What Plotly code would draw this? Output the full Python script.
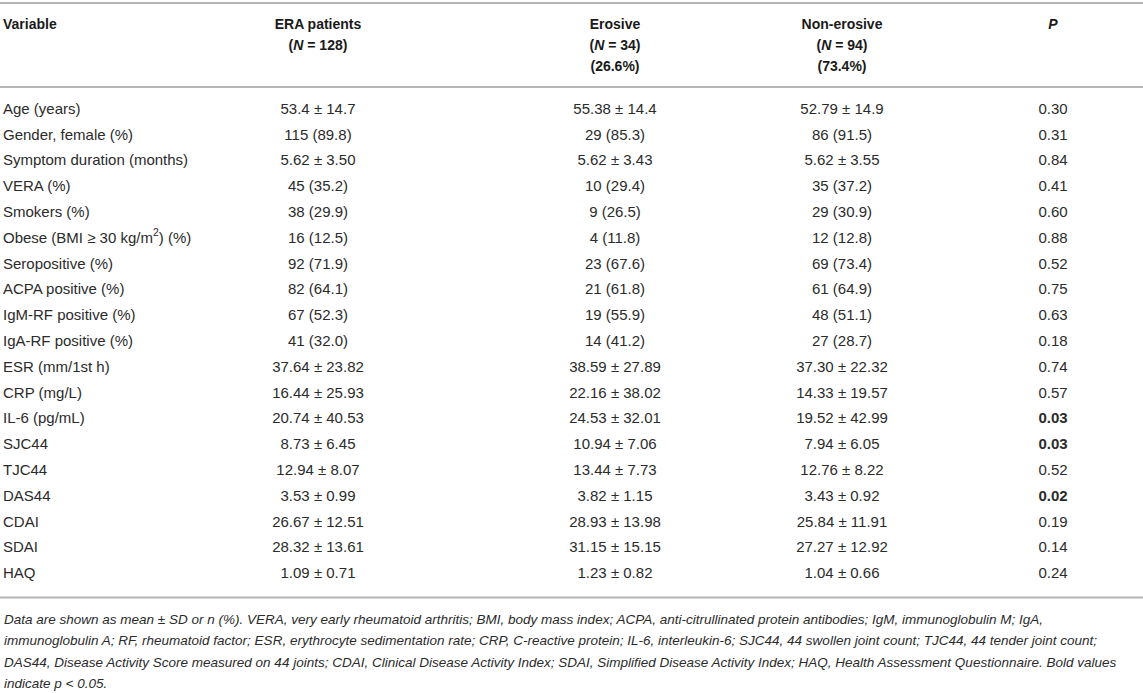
import plotly.graph_objects as go

variables = [
    "Age (years)",
    "Gender, female (%)",
    "Symptom duration (months)",
    "VERA (%)",
    "Smokers (%)",
    "Obese (BMI ≥ 30 kg/m<sup>2</sup>) (%)",
    "Seropositive (%)",
    "ACPA positive (%)",
    "IgM-RF positive (%)",
    "IgA-RF positive (%)",
    "ESR (mm/1st h)",
    "CRP (mg/L)",
    "IL-6 (pg/mL)",
    "SJC44",
    "TJC44",
    "DAS44",
    "CDAI",
    "SDAI",
    "HAQ",
]
era_patients = [
    "53.4 ± 14.7", "115 (89.8)", "5.62 ± 3.50", "45 (35.2)", "38 (29.9)",
    "16 (12.5)", "92 (71.9)", "82 (64.1)", "67 (52.3)", "41 (32.0)",
    "37.64 ± 23.82", "16.44 ± 25.93", "20.74 ± 40.53", "8.73 ± 6.45",
    "12.94 ± 8.07", "3.53 ± 0.99", "26.67 ± 12.51", "28.32 ± 13.61",
    "1.09 ± 0.71",
]
erosive = [
    "55.38 ± 14.4", "29 (85.3)", "5.62 ± 3.43", "10 (29.4)", "9 (26.5)",
    "4 (11.8)", "23 (67.6)", "21 (61.8)", "19 (55.9)", "14 (41.2)",
    "38.59 ± 27.89", "22.16 ± 38.02", "24.53 ± 32.01", "10.94 ± 7.06",
    "13.44 ± 7.73", "3.82 ± 1.15", "28.93 ± 13.98", "31.15 ± 15.15",
    "1.23 ± 0.82",
]
non_erosive = [
    "52.79 ± 14.9", "86 (91.5)", "5.62 ± 3.55", "35 (37.2)", "29 (30.9)",
    "12 (12.8)", "69 (73.4)", "61 (64.9)", "48 (51.1)", "27 (28.7)",
    "37.30 ± 22.32", "14.33 ± 19.57", "19.52 ± 42.99", "7.94 ± 6.05",
    "12.76 ± 8.22", "3.43 ± 0.92", "25.84 ± 11.91", "27.27 ± 12.92",
    "1.04 ± 0.66",
]
p_values = [0.30, 0.31, 0.84, 0.41, 0.60, 0.88, 0.52, 0.75, 0.63, 0.18,
            0.74, 0.57, 0.03, 0.03, 0.52, 0.02, 0.19, 0.14, 0.24]

headers = [
    ["Variable"],
    ["ERA patients", "(<i>N</i> = 128)"],
    ["Erosive", "(<i>N</i> = 34)", "(26.6%)"],
    ["Non-erosive", "(<i>N</i> = 94)", "(73.4%)"],
    ["<i>P</i>"],
]
footnote = [
    "Data are shown as mean ± SD or n (%). VERA, very early rheumatoid arthritis; BMI, body mass index; "
    "ACPA, anti-citrullinated protein antibodies; IgM, immunoglobulin M; IgA,",
    "immunoglobulin A; RF, rheumatoid factor; ESR, erythrocyte sedimentation rate; CRP, C-reactive protein; "
    "IL-6, interleukin-6; SJC44, 44 swollen joint count; TJC44, 44 tender joint count;",
    "DAS44, Disease Activity Score measured on 44 joints; CDAI, Clinical Disease Activity Index; "
    "SDAI, Simplified Disease Activity Index; HAQ, Health Assessment Questionnaire. Bold values",
    "indicate p &lt; 0.05.",
]

FONT = "Liberation Sans"
TEXT = "#2b2b2b"
RULE = "#b4b4b4"
W, H = 1143, 693

col_x = [3, 318, 615, 842, 1053]
col_pos = ["middle right", "middle center", "middle center", "middle center", "middle center"]

header_y0, header_dy = 25, 21
row_y0, row_dy = 110, 25.8
n = len(variables)
row_y = [row_y0 + i * row_dy for i in range(n)]

p_text = [f"<b>{p:.2f}</b>" if p < 0.05 else f"{p:.2f}" for p in p_values]
columns = [variables, era_patients, erosive, non_erosive, p_text]

fig = go.Figure()

for x, pos, hdr in zip(col_x, col_pos, headers):
    fig.add_trace(go.Scatter(
        x=[x] * len(hdr),
        y=[header_y0 + k * header_dy for k in range(len(hdr))],
        text=[f"<b>{h}</b>" for h in hdr],
        mode="text",
        textposition=pos,
        textfont=dict(family=FONT, size=14, color="#1a1a1a"),
        hoverinfo="none",
        showlegend=False,
    ))

for x, pos, vals in zip(col_x, col_pos, columns):
    fig.add_trace(go.Scatter(
        x=[x] * n,
        y=row_y,
        text=vals,
        mode="text",
        textposition=pos,
        textfont=dict(family=FONT, size=15, color=TEXT),
        hoverinfo="none",
        showlegend=False,
    ))

rule_y = [3, 87, row_y[-1] + 23]
for y in rule_y:
    fig.add_shape(type="line", x0=0, x1=W, y0=y, y1=y, xref="x", yref="y",
                  line=dict(color=RULE, width=2))

foot_y0, foot_dy = row_y[-1] + 45, 21.5
for k, line in enumerate(footnote):
    fig.add_annotation(
        x=2, y=foot_y0 + k * foot_dy, xref="x", yref="y",
        text=f"<i>{line}</i>", showarrow=False,
        xanchor="left", yanchor="middle",
        font=dict(family=FONT, size=13.5, color=TEXT),
    )

fig.update_xaxes(range=[0, W], visible=False, fixedrange=True)
fig.update_yaxes(range=[H, 0], visible=False, fixedrange=True)
fig.update_layout(
    width=W, height=H,
    margin=dict(l=0, r=0, t=0, b=0),
    plot_bgcolor="white", paper_bgcolor="white",
)

fig.write_html(
    "out.html",
    config={"displayModeBar": False},
    post_script="document.body.style.margin = '0';",
)
